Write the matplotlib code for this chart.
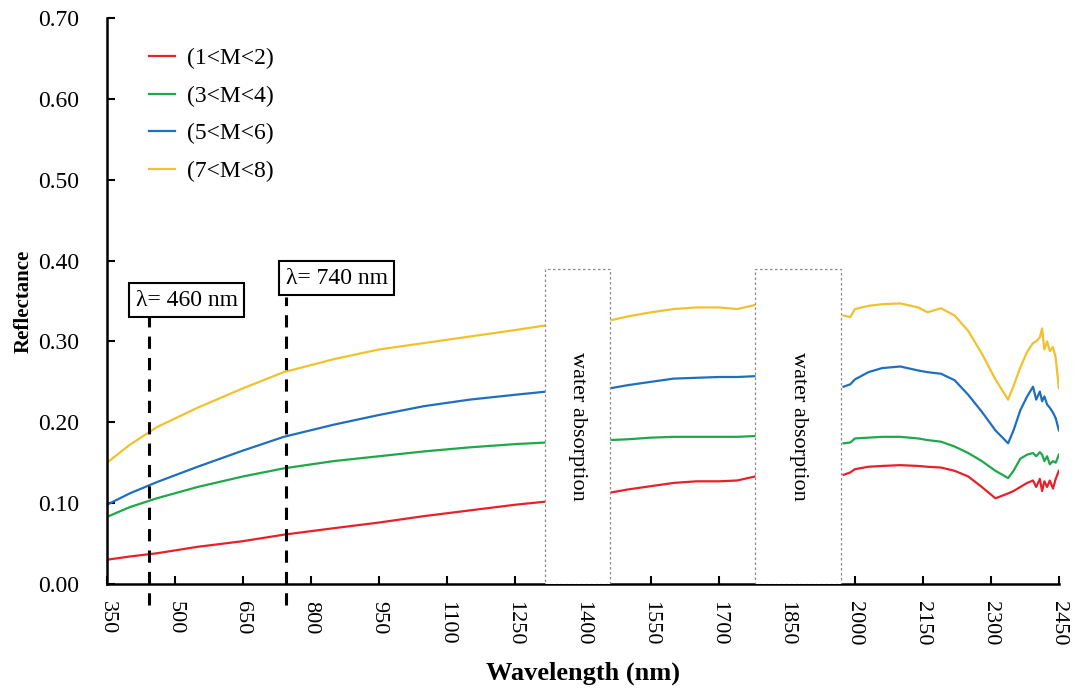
import matplotlib
matplotlib.use("Agg")
import matplotlib.pyplot as plt
import numpy as np
from matplotlib.patches import Rectangle

plt.rcParams['font.family'] = ['Liberation Serif', 'DejaVu Serif']

# ---- data ----
labels = ["(1<M<2)", "(3<M<4)", "(5<M<6)", "(7<M<8)"]
colors = ["#e8202a", "#1fa84a", "#1f6fbf", "#f2c12e"]

wl_a = [350, 400, 460, 550, 650, 740, 850, 950, 1050, 1150, 1250, 1320]
wl_b = [1460, 1500, 1550, 1600, 1650, 1700, 1740, 1780]
wl_c = [1975, 1990, 2000, 2030, 2060, 2100, 2140, 2160, 2190, 2220, 2250, 2280,
        2310, 2338, 2350, 2365, 2380, 2393, 2400, 2408, 2413, 2418, 2424, 2430,
        2437, 2443, 2450]

red_a = [0.030, 0.034, 0.038, 0.046, 0.053, 0.061, 0.069, 0.076, 0.084, 0.091, 0.098, 0.102]
red_b = [0.113, 0.117, 0.121, 0.125, 0.127, 0.127, 0.128, 0.133]
red_c = [0.135, 0.138, 0.142, 0.145, 0.146, 0.147, 0.146, 0.145, 0.144, 0.140, 0.133, 0.120,
         0.106, 0.112, 0.115, 0.120, 0.125, 0.128, 0.120, 0.130, 0.115, 0.127, 0.120, 0.128,
         0.118, 0.130, 0.140]

green_a = [0.083, 0.095, 0.106, 0.120, 0.133, 0.143, 0.152, 0.158, 0.164, 0.169, 0.173, 0.175]
green_b = [0.178, 0.179, 0.181, 0.182, 0.182, 0.182, 0.182, 0.183]
green_c = [0.174, 0.175, 0.180, 0.181, 0.182, 0.182, 0.180, 0.178, 0.176, 0.170, 0.162, 0.152,
           0.140, 0.131, 0.140, 0.155, 0.160, 0.162, 0.158, 0.163, 0.160, 0.152, 0.158, 0.148,
           0.152, 0.150, 0.160]

blue_a = [0.098, 0.112, 0.126, 0.145, 0.165, 0.182, 0.197, 0.209, 0.220, 0.228, 0.234, 0.238]
blue_b = [0.242, 0.246, 0.250, 0.254, 0.255, 0.256, 0.256, 0.257]
blue_c = [0.244, 0.247, 0.253, 0.262, 0.267, 0.269, 0.264, 0.262, 0.260, 0.252, 0.234, 0.213,
          0.190, 0.174, 0.190, 0.215, 0.232, 0.244, 0.228, 0.238, 0.226, 0.232, 0.222, 0.218,
          0.212, 0.205, 0.190]

yellow_a = [0.150, 0.172, 0.194, 0.218, 0.242, 0.262, 0.278, 0.290, 0.298, 0.306, 0.314, 0.320]
yellow_b = [0.326, 0.331, 0.336, 0.340, 0.342, 0.342, 0.340, 0.345]
yellow_c = [0.332, 0.330, 0.340, 0.344, 0.346, 0.347, 0.342, 0.336, 0.341, 0.332, 0.313, 0.285,
            0.253, 0.228, 0.245, 0.268, 0.287, 0.298, 0.300, 0.305, 0.316, 0.290, 0.300, 0.288,
            0.293, 0.280, 0.242]

series = [(red_a, red_b, red_c), (green_a, green_b, green_c),
          (blue_a, blue_b, blue_c), (yellow_a, yellow_b, yellow_c)]

water_bands = [(1316, 1460), (1780, 1970)]
marker_lines = [(443, "λ= 460 nm", 0.333, 526, 0.351), (745, "λ= 740 nm", 0.355, 857, 0.378)]

xticks = list(range(350, 2451, 150))
yticks = [0.0, 0.1, 0.2, 0.3, 0.4, 0.5, 0.6, 0.7]

# ---- figure ----
fig = plt.figure(figsize=(10.75, 6.9), dpi=100)
ax = fig.add_axes([0.0995, 0.1536, 0.8855, 0.8204])

nan = [np.nan]
for (sa, sb, sc), lab, col in zip(series, labels, colors):
    x = wl_a + nan + wl_b + nan + wl_c
    y = sa + nan + sb + nan + sc
    ax.plot(x, y, color=col, lw=1.6, label=lab, zorder=2)

for x0, x1 in water_bands:
    ax.add_patch(Rectangle((x0, 0), x1 - x0, 0.39, facecolor="white",
                           edgecolor="#8a8a8a", lw=0.9, linestyle=(0, (2, 2)),
                           zorder=3))
    ax.text((x0 + x1) / 2, 0.195, "water absorption", rotation=-90,
            ha="center", va="center", fontsize=16, zorder=4)

for xv, txt, ytop, tx, ty in marker_lines:
    ax.plot([xv, xv], [-0.026, ytop], color="black", lw=2.2,
            linestyle=(0, (4, 3)), clip_on=False, zorder=5)
    ax.text(tx, ty, txt, ha="center", va="center", fontsize=17, zorder=6,
            bbox=dict(boxstyle="square,pad=0.28", facecolor="white",
                      edgecolor="black", lw=1.5))

ax.set_xlim(350, 2450)
ax.set_ylim(0, 0.70)
ax.set_xticks(xticks)
ax.set_xticklabels([str(t) for t in xticks], rotation=-90, fontsize=16)
ax.set_yticks(yticks)
ax.set_yticklabels([f"{t:.2f}" for t in yticks], fontsize=17)
ax.tick_params(direction="in", length=6, width=1.5)
ax.tick_params(axis="y", pad=20)
ax.tick_params(axis="x", pad=12)

for s in ["top", "right"]:
    ax.spines[s].set_visible(False)
for s in ["left", "bottom"]:
    ax.spines[s].set_linewidth(1.8)

ax.set_xlabel("Wavelength (nm)", fontsize=19, fontweight="bold", labelpad=12)
ax.set_ylabel("Reflectance", fontsize=15, fontweight="bold", labelpad=3)

ax.legend(loc="upper left", bbox_to_anchor=(0.022, 0.985), frameon=False,
          fontsize=17, handlelength=1.1, handletextpad=0.5, labelspacing=0.68)

fig.savefig("out.png", dpi=100)
